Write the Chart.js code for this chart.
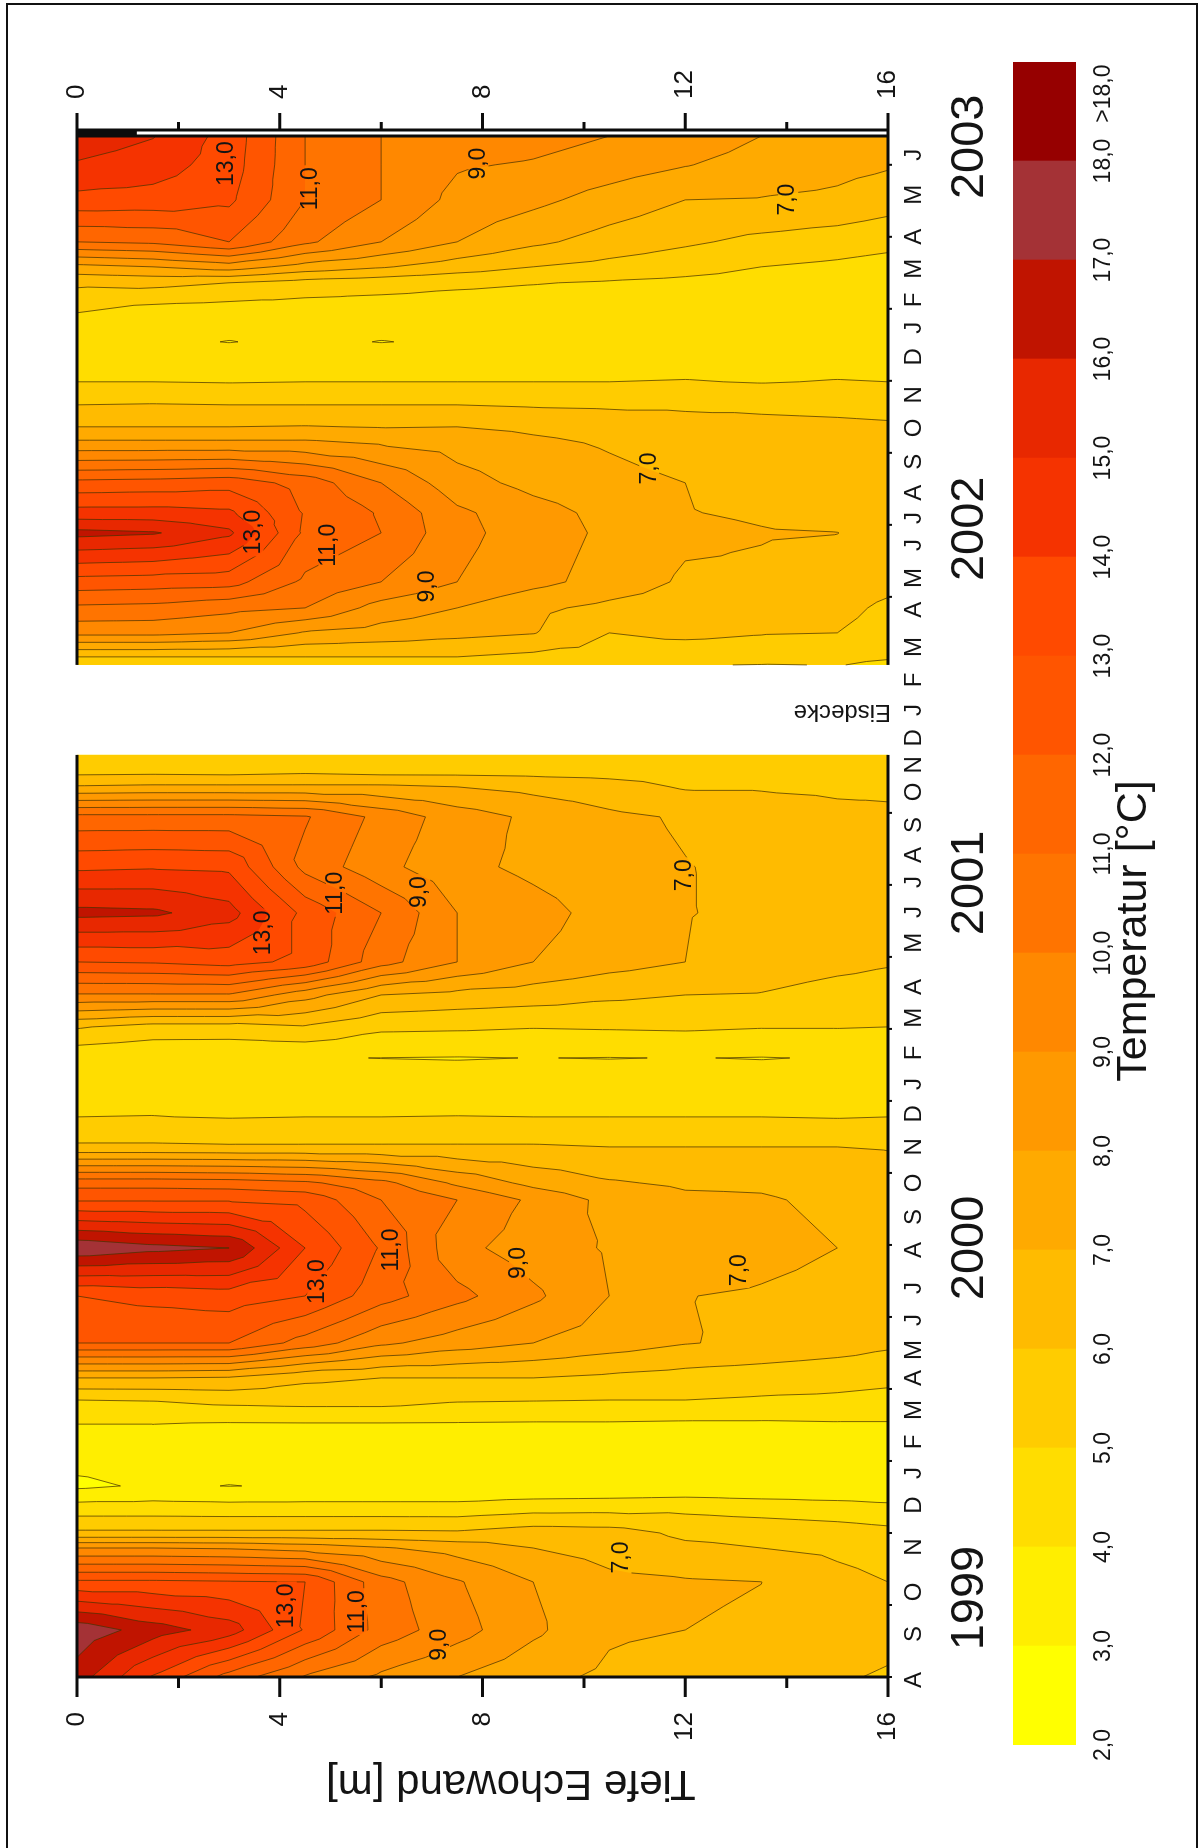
<!DOCTYPE html>
<html>
<head>
<meta charset="utf-8">
<title>Temperatur Echowand</title>
<script src="https://cdn.jsdelivr.net/npm/chart.js@4"></script>
<style>
html, body { margin: 0; padding: 0; background: #fff; width: 1198px; height: 1848px; overflow: hidden; }
/* the whole figure is a landscape plot turned on its side */
#page { position: absolute; left: 0; top: 0; width: 1848px; height: 1198px; transform-origin: 0 0; transform: rotate(-90deg) translateX(-1848px); }
#page canvas { position: absolute; left: 0; top: 0; }
</style>
</head>
<body>
<div id="page">
  <canvas id="contourChart" width="1848" height="1198"></canvas>
  <canvas id="scaleChart" width="1848" height="1198"></canvas>
</div>
<script>
// depth of the loggers [m]
const depths = [0, 1.5, 3, 4.5, 6, 7.5, 9, 10.5, 12, 13.5, 15, 16]

// temperature profiles [°C], one per survey, same order as depths
const aug99 = [16.5, 13.9, 11.6, 9.9, 8.8, 8.0, 7.3, 6.8, 6.5, 6.3, 6.1, 5.9]
const sep99 = [17.7, 16.5, 15.5, 12.9, 10.6, 9.4, 8.2, 7.15, 7.0, 6.9, 6.5, 6.3]
const oct99 = [13.2, 13.2, 13.1, 13.0, 10.4, 9.1, 8.0, 7.25, 7.1, 7.005, 6.3, 6.0]
const nov99a = [9.0, 9.0, 8.9, 8.6, 8.1, 7.6, 7.0, 6.6, 6.2, 6.0, 5.8, 5.6]
const nov99b = [6.2, 6.2, 6.2, 6.2, 6.2, 6.15, 6.5, 6.4, 5.8, 5.7, 5.5, 5.3]
const dec99 = [4.35, 4.35, 4.3, 4.3, 4.3, 4.3, 4.55, 4.6, 4.7, 4.5, 4.35, 4.2]
const jan00 = [2.8, 3.15, 2.98, 3.1, 3.1, 3.1, 3.1, 3.15, 3.2, 3.2, 3.2, 3.2]
const mar00a = [4.02, 4.02, 3.98, 4.0, 4.0, 3.98, 3.95, 3.95, 3.9, 3.9, 3.95, 3.95]
const mar00b = [5.0, 5.05, 5.3, 5.4, 5.4, 5.1, 5.05, 5.0, 5.0, 4.9, 4.85, 4.75]
const apr00 = [7.0, 7.0, 6.9, 6.2, 6.0, 6.0, 6.0, 5.8, 5.6, 5.45, 5.3, 5.2]
const may00 = [12.0, 12.0, 12.0, 10.6, 9.2, 8.5, 8.0, 7.5, 7.05, 6.8, 6.5, 6.2]
const jun00 = [13.0, 13.3, 13.5, 13.0, 11.4, 10.3, 9.2, 8.0, 7.02, 6.9, 6.7, 6.6]
const aug00 = [17.8, 17.3, 17.0, 14.0, 11.9, 9.3, 8.5, 7.9, 7.6, 7.3, 7.0, 6.8]
const sep00 = [12.9, 12.9, 12.9, 12.7, 11.0, 10.0, 8.8, 7.7, 7.2, 7.1, 6.8, 6.6]
const oct00 = [11.6, 11.6, 11.5, 11.2, 10.3, 8.8, 7.7, 7.1, 6.85, 6.85, 6.6, 6.4]
const nov00 = [6.15, 6.15, 6.1, 6.1, 6.1, 6.1, 6.1, 6.0, 6.0, 6.0, 6.0, 5.95]
const dec00 = [5.0, 5.02, 4.95, 5.0, 5.0, 5.02, 5.0, 5.0, 5.0, 5.0, 4.95, 5.0]
const feb01 = [4.25, 4.15, 4.1, 4.05, 3.99, 3.96, 4.01, 3.98, 4.02, 3.97, 4.05, 4.05]
const mar01 = [6.1, 5.6, 5.6, 5.9, 5.2, 5.15, 5.05, 5.1, 5.15, 5.05, 5.05, 5.0]
const apr01 = [9.9, 9.9, 9.9, 8.4, 7.0, 6.7, 6.5, 6.2, 6.0, 5.95, 5.6, 5.5]
const may01 = [13.0, 13.1, 13.4, 12.7, 10.4, 9.0, 8.0, 7.4, 7.0, 6.6, 6.3, 6.1]
const jun01 = [16.3, 16.2, 15.4, 12.7, 11.0, 9.0, 8.4, 7.6, 7.03, 6.85, 6.6, 6.4]
const jul01 = [13.8, 13.9, 13.8, 10.7, 9.3, 8.3, 7.75, 7.3, 7.03, 6.8, 6.5, 6.3]
const sep01a = [11.3, 11.3, 11.3, 11.1, 9.7, 8.5, 7.8, 7.2, 6.9, 6.6, 6.3, 6.2]
const sep01b = [7.1, 7.2, 7.2, 7.2, 7.2, 7.0, 6.7, 6.4, 5.9, 5.9, 5.8, 5.8]
const oct01 = [6.0, 6.02, 6.0, 6.05, 6.0, 5.98, 5.9, 5.8, 5.7, 5.7, 5.65, 5.65]
const nov01 = [5.3, 5.3, 5.3, 5.3, 5.3, 5.3, 5.3, 5.25, 5.25, 5.25, 5.25, 5.25]
const feb02 = [5.2, 5.0, 5.02, 5.4, 5.5, 5.5, 5.4, 5.3, 5.05, 4.97, 5.02, 4.9]
const mar02a = [6.0, 6.0, 6.0, 6.0, 6.0, 6.0, 5.75, 5.6, 5.5, 5.5, 5.1, 5.05]
const mar02b = [9.3, 9.3, 9.0, 7.9, 7.6, 7.3, 7.05, 6.0, 6.2, 6.05, 6.0, 5.6]
const apr02 = [10.8, 10.7, 10.3, 10.0, 8.6, 8.0, 7.2, 6.75, 6.5, 6.4, 6.3, 5.8]
const may02 = [12.6, 12.5, 12.4, 10.8, 10.0, 9.0, 8.3, 7.6, 6.85, 6.85, 6.6, 6.3]
const jun02 = [16.3, 16.1, 15.2, 11.8, 11.0, 9.3, 8.5, 7.8, 7.2, 7.05, 7.01, 6.7]
const jul02a = [14.4, 14.4, 14.2, 11.9, 10.9, 9.2, 8.4, 7.7, 7.03, 6.9, 6.7, 6.5]
const jul02b = [12.3, 12.4, 12.6, 11.6, 10.0, 8.4, 7.7, 7.3, 7.0, 6.7, 6.5, 6.3]
const sep02 = [8.2, 8.2, 8.2, 8.2, 7.9, 7.6, 7.2, 6.9, 6.55, 6.4, 6.3, 6.25]
const oct02a = [7.0, 7.0, 7.0, 7.05, 6.95, 7.0, 6.8, 6.6, 6.35, 6.2, 6.15, 6.1]
const oct02b = [6.0, 6.05, 6.0, 6.0, 6.0, 6.0, 5.9, 5.85, 5.85, 5.85, 5.8, 5.75]
const nov02 = [5.0, 5.0, 4.95, 5.0, 5.0, 5.0, 5.0, 5.0, 5.05, 4.95, 5.05, 5.0]
const jan03 = [4.2, 4.15, 3.98, 4.15, 3.98, 4.1, 4.15, 4.15, 4.2, 4.2, 4.2, 4.2]
const feb03 = [5.0, 4.5, 4.4, 4.4, 4.4, 4.35, 4.3, 4.2, 4.2, 4.1, 4.1, 4.05]
const mar03 = [6.2, 6.3, 6.0, 5.6, 5.4, 5.2, 5.05, 4.9, 4.75, 4.6, 4.5, 4.4]
const apr03a = [7.7, 8.0, 8.5, 7.6, 7.1, 6.5, 6.0, 5.7, 5.4, 5.0, 4.8, 4.6]
const apr03b = [11.0, 11.2, 12.0, 10.2, 9.0, 8.0, 7.2, 6.6, 6.15, 5.75, 5.5, 5.3]
const may03 = [13.7, 13.6, 13.2, 11.0, 10.0, 8.7, 8.25, 7.6, 7.0, 6.95, 6.8, 6.45]
const jun03a = [14.9, 14.5, 13.5, 11.0, 10.0, 9.1, 8.9, 8.5, 8.05, 7.6, 7.3, 7.1]
const jun03b = [15.6, 15.05, 13.6, 11.0, 10.0, 9.7, 9.4, 9.0, 8.6, 8.0, 7.7, 7.5]

const surveys = [aug99, sep99, oct99, nov99a, nov99b, dec99, jan00, mar00a, mar00b, apr00, may00, jun00, aug00, sep00, oct00, nov00, dec00,
  feb01, mar01, apr01, may01, jun01, jul01, sep01a, sep01b, oct01, nov01,
  feb02, mar02a, mar02b, apr02, may02, jun02, jul02a, jul02b, sep02, oct02a, oct02b, nov02,
  jan03, feb03, mar03, apr03a, apr03b, may03, jun03a, jun03b]
// survey position on the time axis [days]
const surveyDays = [0, 39.2, 79.2, 107.5, 120, 141.7, 159.2, 211.7, 230.8, 249.2, 278.3, 317.5, 357.5, 397.5, 411.7, 441.7, 466.7,
  515.8, 541.7, 568.3, 595.8, 636.7, 675, 716.7, 741.7, 751.7, 768.3,
  843.3, 850, 870, 890.8, 912.5, 953.3, 970, 995, 1028.3, 1041.7, 1060, 1079.2,
  1112.5, 1136.7, 1161.7, 1175, 1195.8, 1230.8, 1260, 1284]
// no data under the ice cover
const iceGap = [768.3, 843.3]

const monthLabels = ['A','S','O','N','D', 'J','F','M','A','M','J','J','A','S','O','N','D', 'J','F','M','A','M','J','J','A','S','O','N','D', 'J','F','M','A','M','J','J','A','S','O','N','D', 'J','F','M','A','M','J']
const monthDays = [-2.5, 35.8, 70.8, 108.3, 143.3, 170, 195.8, 222.5, 249.2, 272.5, 297.5, 324.2, 355.8, 383.3, 411.7, 441.7, 469.2, 494.2, 520, 549.2, 575, 611.7, 637.5, 662.5, 685, 710, 737.5, 760, 782.5, 805.8, 830.8, 858.3, 889.2, 915.8, 943.3, 965.8, 986.7, 1012.5, 1040.8, 1068.3, 1100, 1124.2, 1147.5, 1173.3, 1200, 1235, 1268.3]
const timeTicks = [0, 60, 120, 180, 240, 300, 360, 420, 480, 540, 600, 660, 720, 900, 960, 1020, 1080, 1140, 1200, 1260]
const yearLabels = ['1999', '2000', '2001', '2002', '2003']
const yearDays = [65.8, 357.5, 661.7, 956.7, 1275]
const depthTicks = [0, 2, 4, 6, 8, 10, 12, 14, 16]

// labels sitting on the contour lines
const lineLabels = ['13,0', '11,0', '9,0', '7,0', '13,0', '11,0', '9,0', '7,0', '13,0', '11,0', '9,0', '7,0', '13,0', '11,0', '9,0', '7,0', '13,0', '11,0', '9,0', '7,0']
const lineLabelDays = [59.3, 54.4, 26.9, 99.6, 329.4, 355.8, 345, 339, 620, 653, 654, 668, 954, 943, 908.6, 1007, 1261, 1240, 1261, 1231]
const lineLabelDepths = [4.14, 5.53, 7.16, 10.74, 4.74, 6.2, 8.72, 13.07, 3.68, 5.11, 6.77, 11.98, 3.48, 4.96, 6.92, 11.29, 2.96, 4.6, 7.92, 14.03]

// colour scale: lower limit of each class and its colour
const classLimits = [2, 3, 4, 5, 6, 7, 8, 9, 10, 11, 12, 13, 14, 15, 16, 17, 18]
const classColors = ['#FFFF00', '#FFEE00', '#FFDD00', '#FFCC00', '#FFBB00', '#FFAA00', '#FF9900', '#FF8800', '#FF7400', '#FF6600', '#FF5500', '#FF4A00', '#F53300', '#E82800', '#C01400', '#A43236', '#960000']
const scaleTop = 19
const scaleTickValues = [2, 3, 4, 5, 6, 7, 8, 9, 10, 11, 12, 13, 14, 15, 16, 17, 18, 18.68]
const scaleTickLabels = ['2,0', '3,0', '4,0', '5,0', '6,0', '7,0', '8,0', '9,0', '10,0', '11,0', '12,0', '13,0', '14,0', '15,0', '16,0', '17,0', '18,0', '>18,0']

const FONT = '"Liberation Sans", Arial, sans-serif'
const INK = '#141414'

// part of a triangle at or above the level
const clipAbove = (tri, level) => {
    const out = []
    tri.forEach((p, i) => {
        const q = tri[(i + 1) % tri.length]
        if (p.t >= level) out.push(p)
        if ((p.t >= level) !== (q.t >= level)) {
            const f = (level - p.t) / (q.t - p.t)
            out.push({ x: p.x + (q.x - p.x) * f, y: p.y + (q.y - p.y) * f, t: level })
        }
    })
    return out
}

// each grid cell is cut in four triangles around its mean
const gridTriangles = (chart) => {
    const xs = chart.scales.x
    const ys = chart.scales.y
    const cols = chart.data.datasets.map((ds) => ds.data.map((d) => ({ x: xs.getPixelForValue(d.x), y: ys.getPixelForValue(d.y), t: d.t, day: d.x })))
    const tris = []
    for (let i = 0; i < cols.length - 1; i++) {
        if (cols[i][0].day === iceGap[0]) continue
        for (let j = 0; j < depths.length - 1; j++) {
            const a = cols[i][j], b = cols[i + 1][j], c = cols[i + 1][j + 1], d = cols[i][j + 1]
            const m = { x: (a.x + c.x) / 2, y: (a.y + c.y) / 2, t: (a.t + b.t + c.t + d.t) / 4 }
            tris.push([a, b, m], [b, c, m], [c, d, m], [d, a, m])
        }
    }
    return tris
}

const contourPlugin = {
    id: 'contours',
    beforeDatasetsDraw(chart) {
        const { ctx, scales } = chart
        const tris = gridTriangles(chart)
        ctx.save()
        classLimits.forEach((level, k) => {
            ctx.beginPath()
            tris.forEach((tri) => {
                const poly = k === 0 ? tri : clipAbove(tri, level)
                if (poly.length < 3) return
                poly.forEach((p, i) => i ? ctx.lineTo(p.x, p.y) : ctx.moveTo(p.x, p.y))
                ctx.closePath()
            })
            ctx.fillStyle = classColors[k]
            ctx.fill()
        })
        // leave the lines open under their labels
        ctx.font = '23px ' + FONT
        ctx.beginPath()
        ctx.rect(0, 0, chart.width, chart.height)
        lineLabels.forEach((txt, i) => {
            const w = ctx.measureText(txt).width + 4
            ctx.rect(scales.x.getPixelForValue(lineLabelDays[i]) - w / 2, scales.y.getPixelForValue(lineLabelDepths[i]) - 10, w, 20)
        })
        ctx.clip('evenodd')
        ctx.strokeStyle = 'rgba(70,50,0,0.72)'
        ctx.lineWidth = 1
        classLimits.slice(1).forEach((level) => {
            ctx.beginPath()
            tris.forEach((tri) => {
                const hits = []
                tri.forEach((p, i) => {
                    const q = tri[(i + 1) % 3]
                    if ((p.t >= level) !== (q.t >= level)) {
                        const f = (level - p.t) / (q.t - p.t)
                        hits.push([p.x + (q.x - p.x) * f, p.y + (q.y - p.y) * f])
                    }
                })
                if (hits.length === 2) {
                    ctx.moveTo(hits[0][0], hits[0][1])
                    ctx.lineTo(hits[1][0], hits[1][1])
                }
            })
            ctx.stroke()
        })
        ctx.restore()
    },
    afterDraw(chart) {
        const { ctx, scales } = chart
        const xs = scales.x
        const ys = scales.y
        const x0 = xs.getPixelForValue(0)
        const xEnd = xs.getPixelForValue(1284)
        const top = ys.getPixelForValue(0)
        const bottom = ys.getPixelForValue(16)
        const gapA = xs.getPixelForValue(iceGap[0])
        const gapB = xs.getPixelForValue(iceGap[1])
        const axisRight = xEnd + 6
        ctx.save()
        ctx.strokeStyle = '#0c0c0c'
        ctx.fillStyle = '#0c0c0c'
        ctx.lineWidth = 3
        ctx.beginPath()
        // plot outline, open over the ice gap
        ctx.moveTo(x0, top); ctx.lineTo(x0, bottom)
        ctx.moveTo(xEnd, top); ctx.lineTo(xEnd, bottom)
        ctx.moveTo(axisRight, top); ctx.lineTo(axisRight, bottom)
        ctx.moveTo(x0, top); ctx.lineTo(gapA, top)
        ctx.moveTo(gapB, top); ctx.lineTo(axisRight, top)
        ctx.moveTo(x0, bottom); ctx.lineTo(gapA, bottom)
        ctx.moveTo(gapB, bottom); ctx.lineTo(axisRight, bottom)
        // depth ticks on both sides
        depthTicks.forEach((d, i) => {
            const py = ys.getPixelForValue(d)
            const len = i % 2 ? 11 : 20
            ctx.moveTo(x0, py); ctx.lineTo(x0 - len, py)
            ctx.moveTo(axisRight, py); ctx.lineTo(axisRight + len - 3, py)
        })
        ctx.stroke()
        ctx.fillRect(xEnd, top - 1, 6, ys.getPixelForValue(1.2) - top)
        // time ticks are only small bumps on the axis
        ctx.lineWidth = 2
        ctx.beginPath()
        timeTicks.forEach((d) => {
            const px = xs.getPixelForValue(d)
            ctx.moveTo(px, bottom); ctx.lineTo(px, bottom + 4)
        })
        ctx.stroke()

        // sheet frame, the lower edge is not there
        ctx.strokeStyle = '#111'
        ctx.lineWidth = 2
        ctx.beginPath()
        ctx.moveTo(0, 7); ctx.lineTo(1844, 7); ctx.lineTo(1844, 1197); ctx.lineTo(0, 1197)
        ctx.stroke()

        ctx.fillStyle = INK
        ctx.textAlign = 'center'
        ctx.textBaseline = 'middle'
        ctx.font = '23px ' + FONT
        lineLabels.forEach((txt, i) => ctx.fillText(txt, xs.getPixelForValue(lineLabelDays[i]), ys.getPixelForValue(lineLabelDepths[i])))

        const turned = (txt, px, py, font) => {
            ctx.save()
            ctx.translate(px, py)
            ctx.rotate(-Math.PI / 2)
            ctx.font = font
            ctx.fillText(txt, 0, 0)
            ctx.restore()
        }
        turned('Tiefe Echowand [m]', 65, 511, '42px ' + FONT)
        turned('Eisdecke', xs.getPixelForValue(804), ys.getPixelForValue(15.1), '24px ' + FONT)
        ctx.restore()
    }
}

const days = { min: 0, max: 1284 }

new Chart(document.getElementById('contourChart'), {
    type: 'scatter',
    data: {
        datasets: surveys.map((values, i) => ({
            label: String(surveyDays[i]),
            data: values.map((t, j) => ({ x: surveyDays[i], y: depths[j], t: t })),
            pointRadius: 0,
            showLine: false
        }))
    },
    options: {
        responsive: false,
        animation: false,
        devicePixelRatio: 1,
        layout: { padding: { top: 77, bottom: 159, left: 0, right: 0 } },
        plugins: { legend: { display: false }, tooltip: { enabled: false } },
        scales: {
            x: {
                type: 'linear', position: 'bottom', min: days.min, max: days.max,
                grid: { display: false }, border: { display: false },
                afterBuildTicks: (s) => { s.ticks = monthDays.map((v) => ({ value: v })) },
                afterFit: (s) => { s.height = 41 },
                ticks: {
                    callback: (v, i) => monthLabels[i],
                    autoSkip: false, maxRotation: 0, minRotation: 0, padding: 4,
                    color: INK, font: { family: FONT, size: 24 }
                }
            },
            xYear: {
                type: 'linear', axis: 'x', position: 'bottom', min: days.min, max: days.max,
                grid: { display: false }, border: { display: false },
                afterBuildTicks: (s) => { s.ticks = yearDays.map((v) => ({ value: v })) },
                afterFit: (s) => { s.height = 110 },
                ticks: {
                    callback: (v, i) => yearLabels[i],
                    autoSkip: false, maxRotation: 0, minRotation: 0, padding: 5,
                    color: INK, font: { family: FONT, size: 47 }
                }
            },
            y: {
                type: 'linear', position: 'left', min: 0, max: 16, reverse: true,
                grid: { display: false }, border: { display: false },
                afterFit: (s) => { s.width = 171 },
                ticks: { stepSize: 4, padding: 27, color: INK, font: { family: FONT, size: 26 } }
            },
            yRight: {
                type: 'linear', axis: 'y', position: 'right', min: 0, max: 16, reverse: true,
                grid: { display: false }, border: { display: false },
                afterFit: (s) => { s.width = 136 },
                ticks: { stepSize: 4, padding: 29, color: INK, font: { family: FONT, size: 26 } }
            }
        }
    },
    plugins: [contourPlugin]
})

const scaleTitle = {
    id: 'scaleTitle',
    afterDraw(chart) {
        const { ctx } = chart
        ctx.save()
        ctx.fillStyle = INK
        ctx.textAlign = 'center'
        ctx.textBaseline = 'middle'
        ctx.font = '43px ' + FONT
        ctx.fillText('Temperatur [°C]', 917, 1134)
        ctx.restore()
    }
}

// colour bar: one floating bar per temperature class
new Chart(document.getElementById('scaleChart'), {
    type: 'bar',
    data: {
        labels: ['Temperatur'],
        datasets: classLimits.map((lo, i) => ({
            label: String(lo),
            data: [[lo, i + 1 < classLimits.length ? classLimits[i + 1] : scaleTop]],
            backgroundColor: classColors[i],
            borderWidth: 0,
            grouped: false,
            barPercentage: 1,
            categoryPercentage: 1
        }))
    },
    options: {
        indexAxis: 'y',
        responsive: false,
        animation: false,
        devicePixelRatio: 1,
        layout: { padding: { top: 1013, bottom: 82, left: 0, right: 62 } },
        plugins: { legend: { display: false }, tooltip: { enabled: false } },
        scales: {
            x: {
                type: 'linear', position: 'bottom', min: 2, max: scaleTop,
                grid: { display: false }, border: { display: false },
                afterBuildTicks: (s) => { s.ticks = scaleTickValues.map((v) => ({ value: v })) },
                afterFit: (s) => { s.height = 40 },
                ticks: {
                    callback: (v, i) => scaleTickLabels[i],
                    autoSkip: false, maxRotation: 0, minRotation: 0, padding: 6,
                    color: INK, font: { family: FONT, size: 23 }
                }
            },
            y: {
                position: 'left',
                grid: { display: false }, border: { display: false },
                afterFit: (s) => { s.width = 103 },
                ticks: { display: false }
            }
        }
    },
    plugins: [scaleTitle]
})
</script>
</body>
</html>
